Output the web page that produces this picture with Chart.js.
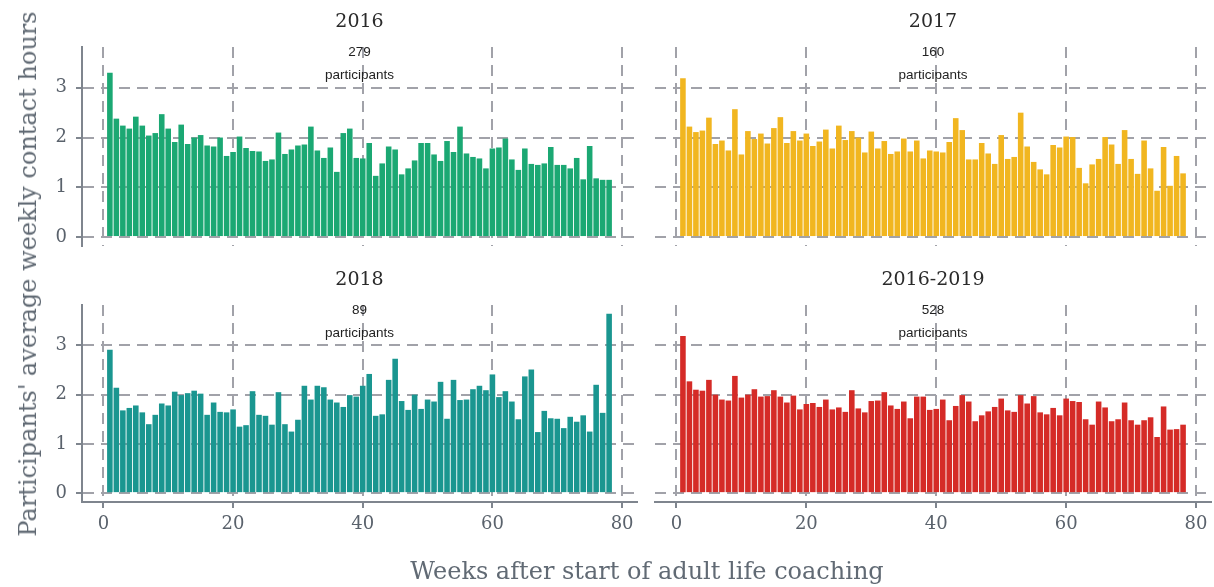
<!DOCTYPE html>
<html>
<head>
<meta charset="utf-8">
<title>Weekly contact hours</title>
<script src="https://cdn.jsdelivr.net/npm/chart.js@4.4.1/dist/chart.umd.min.js"></script>
<style>
  body { margin: 0; background: #fff; }
  #wrap { position: relative; width: 1214px; height: 587px; overflow: hidden; }
  #wrap canvas { position: absolute; left: 0; top: 0; }
  .axis-title {
    position: absolute;
    font-family: 'DejaVu Serif', serif;
    color: #616a74;
    font-size: 24px;
    white-space: nowrap;
  }
  #ytitle { left: 28px; top: 274px; transform: translate(-50%, -50%) rotate(-90deg); }
  #xtitle { left: 647px; top: 571px; transform: translate(-50%, -50%); }
</style>
</head>
<body>
<div id="wrap">
  <canvas id="p0" width="1214" height="587"></canvas>
  <canvas id="p1" width="1214" height="587"></canvas>
  <canvas id="p2" width="1214" height="587"></canvas>
  <canvas id="p3" width="1214" height="587"></canvas>
  <div id="ytitle" class="axis-title">Participants' average weekly contact hours</div>
  <div id="xtitle" class="axis-title">Weeks after start of adult life coaching</div>
</div>
<script>
// weeks after the start of coaching (one bar per week)
const weeks = [1, 2, 3, 4, 5, 6, 7, 8, 9, 10, 11, 12, 13, 14, 15, 16, 17, 18, 19, 20,
  21, 22, 23, 24, 25, 26, 27, 28, 29, 30, 31, 32, 33, 34, 35, 36, 37, 38, 39, 40,
  41, 42, 43, 44, 45, 46, 47, 48, 49, 50, 51, 52, 53, 54, 55, 56, 57, 58, 59, 60,
  61, 62, 63, 64, 65, 66, 67, 68, 69, 70, 71, 72, 73, 74, 75, 76, 77, 78];

const cohorts = ['2016', '2017', '2018', '2016-2019'];
const participants = [279, 160, 89, 528];

// average weekly contact hours per cohort
const hours2016 = [3.30, 2.38, 2.24, 2.18, 2.42, 2.24, 2.04, 2.09, 2.47, 2.18, 1.91, 2.26, 1.87, 2.00, 2.05,
  1.84, 1.82, 2.00, 1.63, 1.71, 2.02, 1.79, 1.73, 1.72, 1.53, 1.56, 2.10, 1.67, 1.76, 1.84,
  1.86, 2.22, 1.74, 1.59, 1.80, 1.31, 2.09, 2.18, 1.59,
  1.58, 1.89, 1.23, 1.48, 1.82, 1.76, 1.26, 1.38, 1.54, 1.89, 1.89, 1.66, 1.53, 1.93, 1.71,
  2.22, 1.68, 1.61, 1.58, 1.38, 1.78, 1.80, 1.98, 1.56, 1.35, 1.78, 1.47, 1.45, 1.48, 1.81,
  1.45, 1.45, 1.38, 1.59, 1.16, 1.83, 1.18, 1.15, 1.15];
const hours2017 = [3.19, 2.22, 2.11, 2.14, 2.40, 1.87, 1.94, 1.74, 2.57, 1.66, 2.13, 1.97, 2.08, 1.88, 2.19,
  2.41, 1.89, 2.13, 1.94, 2.08, 1.83, 1.92, 2.16, 1.78, 2.24, 1.95, 2.13, 2.00, 1.70, 2.12,
  1.78, 1.93, 1.67, 1.72, 1.98, 1.72, 1.94, 1.58, 1.74,
  1.72, 1.70, 1.91, 2.39, 2.15, 1.56, 1.56, 1.89, 1.68, 1.47, 2.05, 1.57, 1.61, 2.50, 1.82,
  1.51, 1.36, 1.26, 1.85, 1.80, 2.02, 2.01, 1.39, 1.08, 1.46, 1.57, 2.01, 1.86, 1.47, 2.15,
  1.57, 1.27, 1.94, 1.38, 0.93, 1.81, 1.03, 1.63, 1.28];
const hours2018 = [2.91, 2.14, 1.68, 1.73, 1.78, 1.64, 1.40, 1.59, 1.82, 1.78, 2.06, 1.99, 2.03, 2.08, 2.02,
  1.59, 1.84, 1.65, 1.64, 1.70, 1.35, 1.38, 2.07, 1.59, 1.57, 1.39, 2.05, 1.40, 1.25, 1.49,
  2.18, 1.90, 2.18, 2.15, 1.90, 1.84, 1.75, 1.99, 1.96,
  2.18, 2.42, 1.57, 1.60, 2.30, 2.73, 1.87, 1.69, 2.00, 1.71, 1.90, 1.86, 2.26, 1.51, 2.30,
  1.89, 1.90, 2.11, 2.18, 2.09, 2.41, 1.95, 2.07, 1.86, 1.50, 2.37, 2.51, 1.24, 1.67, 1.52,
  1.51, 1.32, 1.55, 1.45, 1.58, 1.25, 2.20, 1.63, 3.64];
const hoursAll = [3.19, 2.27, 2.10, 2.08, 2.30, 2.00, 1.90, 1.88, 2.38, 1.94, 2.00, 2.11, 1.96, 1.97, 2.09,
  1.96, 1.84, 1.98, 1.70, 1.81, 1.83, 1.75, 1.90, 1.70, 1.74, 1.65, 2.09, 1.72, 1.64, 1.87,
  1.88, 2.05, 1.78, 1.71, 1.86, 1.52, 1.96, 1.96, 1.69,
  1.71, 1.90, 1.48, 1.77, 1.99, 1.86, 1.46, 1.58, 1.66, 1.75, 1.92, 1.68, 1.65, 1.99, 1.82,
  1.97, 1.64, 1.60, 1.73, 1.58, 1.92, 1.87, 1.85, 1.50, 1.39, 1.86, 1.74, 1.46, 1.50, 1.84,
  1.48, 1.39, 1.48, 1.54, 1.14, 1.76, 1.29, 1.30, 1.39];

const xTicks = [0, 20, 40, 60, 80];
const yTicks = [0, 1, 2, 3];

const series = [hours2016, hours2017, hours2018, hoursAll];
const barColors = ['#1ba873', '#f1b620', '#1a9690', '#d52b27'];

// facet geometry: plot areas of the 2x2 grid, in page pixels
const cols = [{ left: 82, right: 637 }, { left: 655, right: 1211 }];
const rows = [{ top: 47, bottom: 246 }, { top: 305, bottom: 502 }];
const Y_AXIS_W = 40;
const X_AXIS_H = 40;
const W = 1214, H = 587;

const GRID = '#a1a2a9';
const AXIS = '#7f858e';
const TICK_TEXT = '#5a626c';

// cohort name and participant count above each facet
const panelLabel = {
  id: 'panelLabel',
  afterDraw(chart, args, opts) {
    const { ctx, chartArea } = chart;
    const cx = (chartArea.left + chartArea.right) / 2;
    ctx.save();
    ctx.textAlign = 'center';
    ctx.textBaseline = 'middle';
    ctx.fillStyle = '#2a2a2a';
    ctx.font = '19px "DejaVu Serif"';
    ctx.fillText(opts.title, cx, chartArea.top - 25);
    ctx.fillStyle = '#222';
    ctx.font = '13.5px "Liberation Sans"';
    ctx.fillText(String(opts.count), cx, chartArea.top + 5);
    ctx.fillText('participants', cx, chartArea.top + 28);
    ctx.restore();
  }
};

function drawPanel(idx) {
  const col = idx % 2, row = Math.floor(idx / 2);
  const isLeft = col === 0, isBottom = row === 1;
  const c = cols[col], r = rows[row];
  const yW = isLeft ? Y_AXIS_W : 0;
  const xH = isBottom ? X_AXIS_H : 0;

  new Chart(document.getElementById('p' + idx), {
    type: 'bar',
    data: {
      datasets: [{
        data: weeks.map((w, i) => ({ x: w, y: series[idx][i] })),
        backgroundColor: barColors[idx],
        barPercentage: 0.86,
        categoryPercentage: 1
      }]
    },
    options: {
      responsive: false,
      animation: false,
      layout: {
        padding: { left: c.left - yW, right: W - c.right, top: r.top, bottom: H - r.bottom - xH }
      },
      plugins: {
        legend: { display: false },
        tooltip: { enabled: false },
        panelLabel: { title: cohorts[idx], count: participants[idx] }
      },
      scales: {
        x: {
          type: 'linear',
          min: -3.3,
          max: 82.3,
          offset: false,
          afterBuildTicks: s => { s.ticks = xTicks.map(v => ({ value: v })); },
          afterFit: s => { s.height = xH; },
          grid: {
            offset: false, color: GRID, lineWidth: 2,
            drawTicks: isBottom, tickLength: 6, tickColor: AXIS, tickWidth: 2
          },
          border: { display: isBottom, color: AXIS, width: 2, dash: [11, 7] },
          ticks: {
            display: isBottom, color: TICK_TEXT, padding: 6, maxRotation: 0,
            font: { family: 'DejaVu Serif', size: 18 }
          }
        },
        y: {
          min: -0.18,
          max: 3.82,
          afterBuildTicks: s => { s.ticks = yTicks.map(v => ({ value: v })); },
          afterFit: s => { s.width = yW; },
          grid: {
            color: GRID, lineWidth: 2,
            drawTicks: isLeft, tickLength: 6, tickColor: AXIS, tickWidth: 2
          },
          border: { display: isLeft, color: AXIS, width: 2, dash: [11, 7] },
          ticks: {
            display: isLeft, color: TICK_TEXT, padding: 9,
            font: { family: 'DejaVu Serif', size: 18 }
          }
        }
      }
    },
    plugins: [panelLabel]
  });
}

for (let i = 0; i < 4; i++) drawPanel(i);
</script>
</body>
</html>
